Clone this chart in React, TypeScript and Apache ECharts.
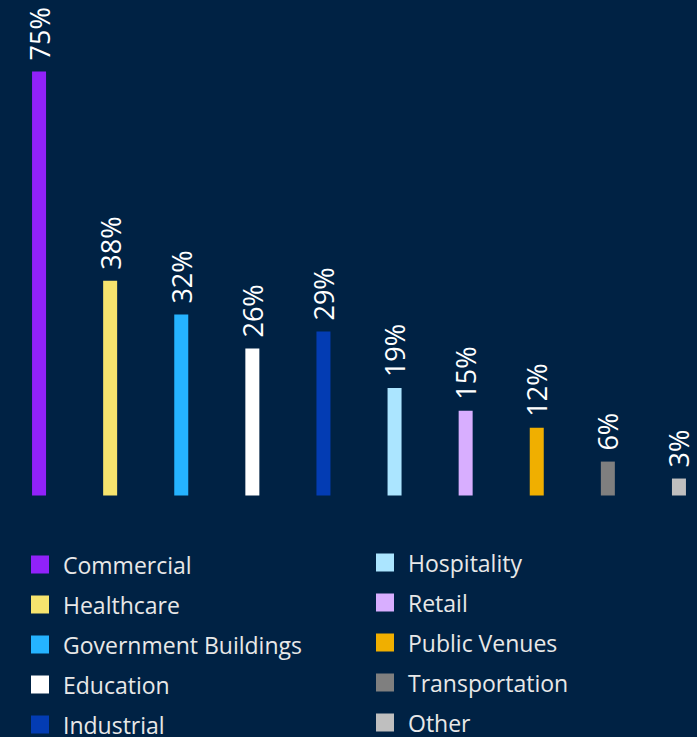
import React, { useEffect, useRef } from "react";
import * as echarts from "echarts";

const categories = [
  "Commercial",
  "Healthcare",
  "Government Buildings",
  "Education",
  "Industrial",
  "Hospitality",
  "Retail",
  "Public Venues",
  "Transportation",
  "Other",
];
const values = [75, 38, 32, 26, 29, 19, 15, 12, 6, 3];
const colors = [
  "#9122F9",
  "#F6E46E",
  "#25B3FF",
  "#FFFFFF",
  "#033CB3",
  "#ABE5FF",
  "#D8AEFF",
  "#F0AF00",
  "#7F7F7F",
  "#BFBFBF",
];

export default function App() {
  const ref = useRef<HTMLDivElement>(null);
  useEffect(() => {
    if (!ref.current) return;
    const chart = echarts.init(ref.current, null, { renderer: "svg" });
    const series = categories.map((name, i) => ({
      name,
      type: "bar",
      barWidth: 14,
      barGap: "-100%",
      itemStyle: { color: colors[i] },
      data: categories.map((_, j) => (j === i ? values[i] : "-")),
      label: {
        show: true,
        position: "top",
        rotate: 90,
        align: "left",
        verticalAlign: "middle",
        distance: 11,
        formatter: "{c}%",
        color: "#FFFFFF",
        fontSize: 27,
        fontFamily: "Open Sans",
      },
    }));
    const legendBase = {
      orient: "vertical",
      icon: "rect",
      itemWidth: 18,
      itemHeight: 18,
      itemGap: 17,
      padding: 0,
      height: 220,
      selectedMode: false,
      textStyle: {
        color: "#E8E8E8",
        fontSize: 23,
        fontFamily: "Open Sans",
        padding: [0, 0, 0, 9],
      },
    };
    chart.setOption({
      animation: false,
      backgroundColor: "#002244",
      grid: {
        left: 3.5,
        right: -17.5,
        top: 71.5,
        bottom: 241.5,
        outerBoundsMode: "none",
        containLabel: false,
      },
      xAxis: { type: "category", data: categories, show: false },
      yAxis: { type: "value", min: 0, max: 75, show: false },
      legend: [
        { ...legendBase, data: categories.slice(0, 5), left: 31, top: 553 },
        { ...legendBase, data: categories.slice(5), left: 376, top: 551 },
      ],
      series,
    });
    return () => chart.dispose();
  }, []);
  return (
    <div
      ref={ref}
      style={{ position: "fixed", left: 0, top: 0, width: 697, height: 737 }}
    />
  );
}
